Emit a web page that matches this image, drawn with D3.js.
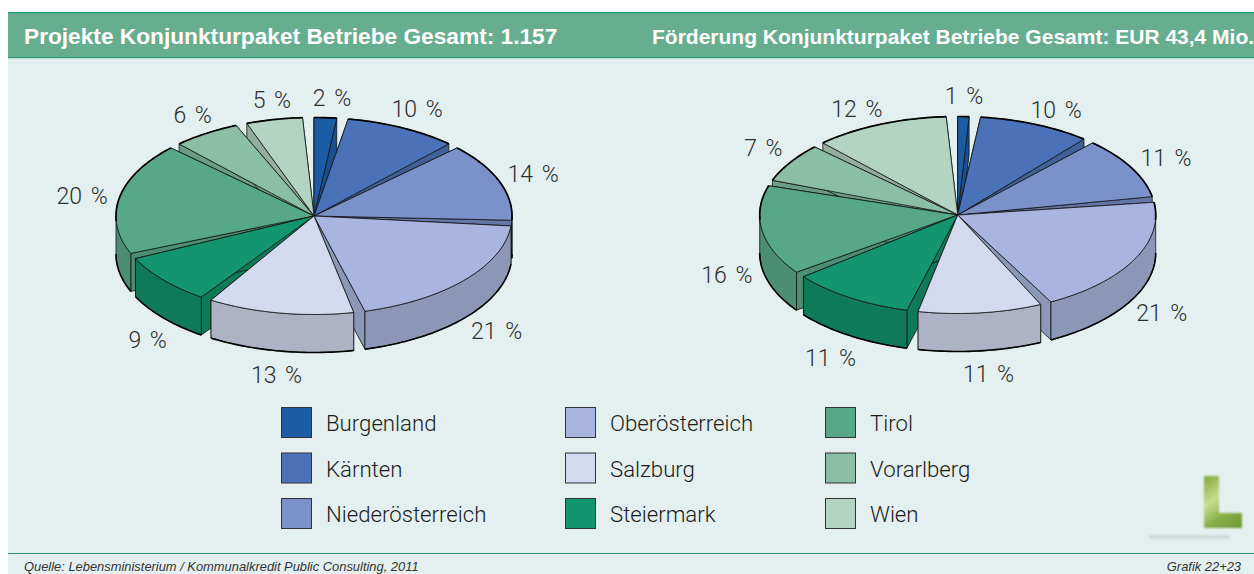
<!DOCTYPE html>
<html><head><meta charset="utf-8">
<script src="https://cdn.jsdelivr.net/npm/d3@7/dist/d3.min.js"></script>
<style>html,body{margin:0;padding:0;background:#fff;overflow:hidden}svg{display:block}</style>
</head><body>
<svg id="c" width="1254" height="574"></svg>
<script>
const categories = ["Burgenland","Kärnten","Niederösterreich","Oberösterreich","Salzburg","Steiermark","Tirol","Vorarlberg","Wien"];
const projekteValues = [2,10,14,21,13,9,20,6,5];
const foerderungValues = [1,10,11,21,11,11,16,7,12];
const topColors = ["#1c5ca5","#4b72b8","#7a91c9","#a7b5df","#d3d9ee","#13966f","#57a888","#8abfa6","#b3d4c3"];
const sideColors = ["#184f8e","#3f6099","#6277a8","#8b97b6","#adb2c4","#0e7a58","#4b8e73","#6c9c86","#93ae9f"];
const titleLeft = "Projekte Konjunkturpaket Betriebe Gesamt: 1.157";
const titleRight = "Förderung Konjunkturpaket Betriebe Gesamt: EUR 43,4 Mio.";
const sourceText = "Quelle: Lebensministerium / Kommunalkredit Public Consulting, 2011";
const graphicText = "Grafik 22+23";
const labelNudgeLeft = [[6.6,-19.7],[15,-18.8],[33.8,-7.2],[32,51],[-3.5,62],[-15.8,59.8],[-37.3,-2],[-13.3,-18.7],[-2.3,-19.6]];
const labelNudgeRight = [[0.6,-20.5],[20.6,-14.4],[35,-9.3],[28,53],[8,61],[-19.3,60.2],[-35.3,44],[-26.7,-14.9],[-23,-15.6]];

const svg = d3.select("#c");
const FONT = "'Liberation Sans', Arial, sans-serif";
const LIGHT = "Roboto, 'Liberation Sans', sans-serif";
const defs = svg.append("defs");
defs.append("filter").attr("id","blur2").append("feGaussianBlur").attr("stdDeviation",1.3);
const lg = defs.append("linearGradient").attr("id","leaf").attr("gradientUnits","userSpaceOnUse")
  .attr("x1",1204).attr("y1",476).attr("x2",1240).attr("y2",528);
lg.append("stop").attr("offset","0").attr("stop-color","#7fa83c");
lg.append("stop").attr("offset","0.4").attr("stop-color","#c9dc8e");
lg.append("stop").attr("offset","0.7").attr("stop-color","#86ad46");
lg.append("stop").attr("offset","1").attr("stop-color","#6d9a38");

// panel
svg.append("rect").attr("x",8).attr("y",12).attr("width",1246).attr("height",562).attr("fill","#e3f0ef");
svg.append("rect").attr("x",8).attr("y",12).attr("width",1246).attr("height",46).attr("fill","#66ae8f");
svg.append("rect").attr("x",8).attr("y",12).attr("width",1246).attr("height",1.2).attr("fill","#1f9a74");
svg.append("rect").attr("x",8).attr("y",57).attr("width",1246).attr("height",1.2).attr("fill","#2a9c78");
const head = svg.append("g").attr("font-family",FONT).attr("font-weight",700).attr("fill","#fff");
head.append("text").attr("x",24).attr("y",44).attr("font-size",22.7).text(titleLeft);
head.append("text").attr("x",652).attr("y",44).attr("font-size",21).text(titleRight);

// pies
const pie = d3.pie().sort(null).value(d=>d).startAngle(0).endAngle(2*Math.PI).padAngle(30/9*Math.PI/180);
const DEPTH = 38, RX = 198, RY = 98.5;
function drawPie(values, cx, cy, nudges){
  const sx = d3.scaleLinear().domain([-1,1]).range([cx-RX,cx+RX]);
  const sy = d3.scaleLinear().domain([-1,1]).range([cy+RY,cy-RY]);
  const pt = (a,dz=0)=>[sx(Math.sin(a)), sy(Math.cos(a))+dz];
  const line = d3.line();
  const arcPts = (a0,a1,dz=0)=>{
    const n = Math.max(2,Math.ceil((a1-a0)/0.02));
    return d3.range(n+1).map(i=>pt(a0+(a1-a0)*i/n,dz));
  };
  const slices = pie(values).map((d,i)=>({i,value:d.value,a0:d.startAngle,a1:d.endAngle-d.padAngle}));
  const order = slices.slice().sort((p,q)=>{
    const m=s=>Math.abs((s.a0+s.a1)/2-Math.PI);
    return m(q)-m(p);
  });
  const g = svg.append("g").attr("stroke-linejoin","round");
  const c0=[cx,cy], c1=[cx,cy+DEPTH];
  order.forEach(s=>{
    const sg = g.append("g");
    [s.a0,s.a1].forEach(a=>{
      sg.append("path").attr("d",line([c0,pt(a),pt(a,DEPTH),c1])+"Z")
        .attr("fill",sideColors[s.i]).attr("stroke","#111").attr("stroke-width",0.8);
    });
    // outer band: only the near half of the rim is ever visible
    const b0 = Math.max(s.a0,Math.PI/2), b1 = Math.min(s.a1,3*Math.PI/2);
    if(b1>b0){
      const bandTop = arcPts(b0,b1), bandLow = arcPts(b0,b1,DEPTH).reverse();
      sg.append("path").attr("d",line(bandTop.concat(bandLow))+"Z")
        .attr("fill",sideColors[s.i]).attr("stroke","#111").attr("stroke-width",0.8);
      sg.append("path").attr("d",line(bandLow)).attr("fill","none").attr("stroke","#000").attr("stroke-width",1.6);
    }
    const upper = arcPts(s.a0,s.a1);
    sg.append("path").attr("d",line([c0].concat(upper))+"Z")
      .attr("fill",topColors[s.i]).attr("stroke","#111").attr("stroke-width",0.8);
    const farRim = upper.filter(p=>p[1]<cy+6);
    if(farRim.length>1) sg.append("path").attr("d",line(farRim)).attr("fill","none").attr("stroke","#000").attr("stroke-width",1.7);
  });
  const lab = svg.append("g").attr("font-family",LIGHT).attr("font-weight",300).attr("font-size",23).attr("word-spacing",3).attr("fill","#2e2e2e").attr("text-anchor","middle");
  slices.forEach(s=>{
    const p = pt((s.a0+s.a1)/2);
    lab.append("text").attr("x",p[0]+nudges[s.i][0]).attr("y",p[1]+nudges[s.i][1]+8).text(s.value+" %");
  });
}
drawPie(projekteValues,314,216,labelNudgeLeft);
drawPie(foerderungValues,957.7,215,labelNudgeRight);

// legend
const colX = [281,565,825];
const rowY = d3.scalePoint().domain([0,1,2]).range([423,514]);
const leg = svg.append("g").attr("font-family",LIGHT).attr("font-weight",300).attr("font-size",22.2).attr("fill","#1c1c1c");
categories.forEach((c,i)=>{
  const k = Math.floor(i/3), r = i%3;
  leg.append("rect").attr("x",colX[k]+0.5).attr("y",rowY(r)-15.5).attr("width",30).attr("height",30)
     .attr("fill",topColors[i]).attr("stroke","#333").attr("stroke-width",1);
  leg.append("text").attr("x",colX[k]+45).attr("y",rowY(r)+8).text(c);
});

// logo
const logo = svg.append("g").attr("filter","url(#blur2)");
logo.append("rect").attr("x",1204).attr("y",476).attr("width",15).attr("height",52).attr("fill","url(#leaf)");
logo.append("rect").attr("x",1204).attr("y",513).attr("width",38).attr("height",15).attr("fill","url(#leaf)");
logo.append("rect").attr("x",1149).attr("y",535).attr("width",81).attr("height",4).attr("fill","#d0d9d9");

// footer
svg.append("rect").attr("x",8).attr("y",553).attr("width",1246).attr("height",1).attr("fill","#2a8f70");
const foot = svg.append("g").attr("font-family",FONT).attr("font-style","italic").attr("font-size",12.9).attr("fill","#333");
foot.append("text").attr("x",24).attr("y",571).text(sourceText);
foot.append("text").attr("x",1241).attr("y",571).attr("text-anchor","end").text(graphicText);
</script>
</body></html>
